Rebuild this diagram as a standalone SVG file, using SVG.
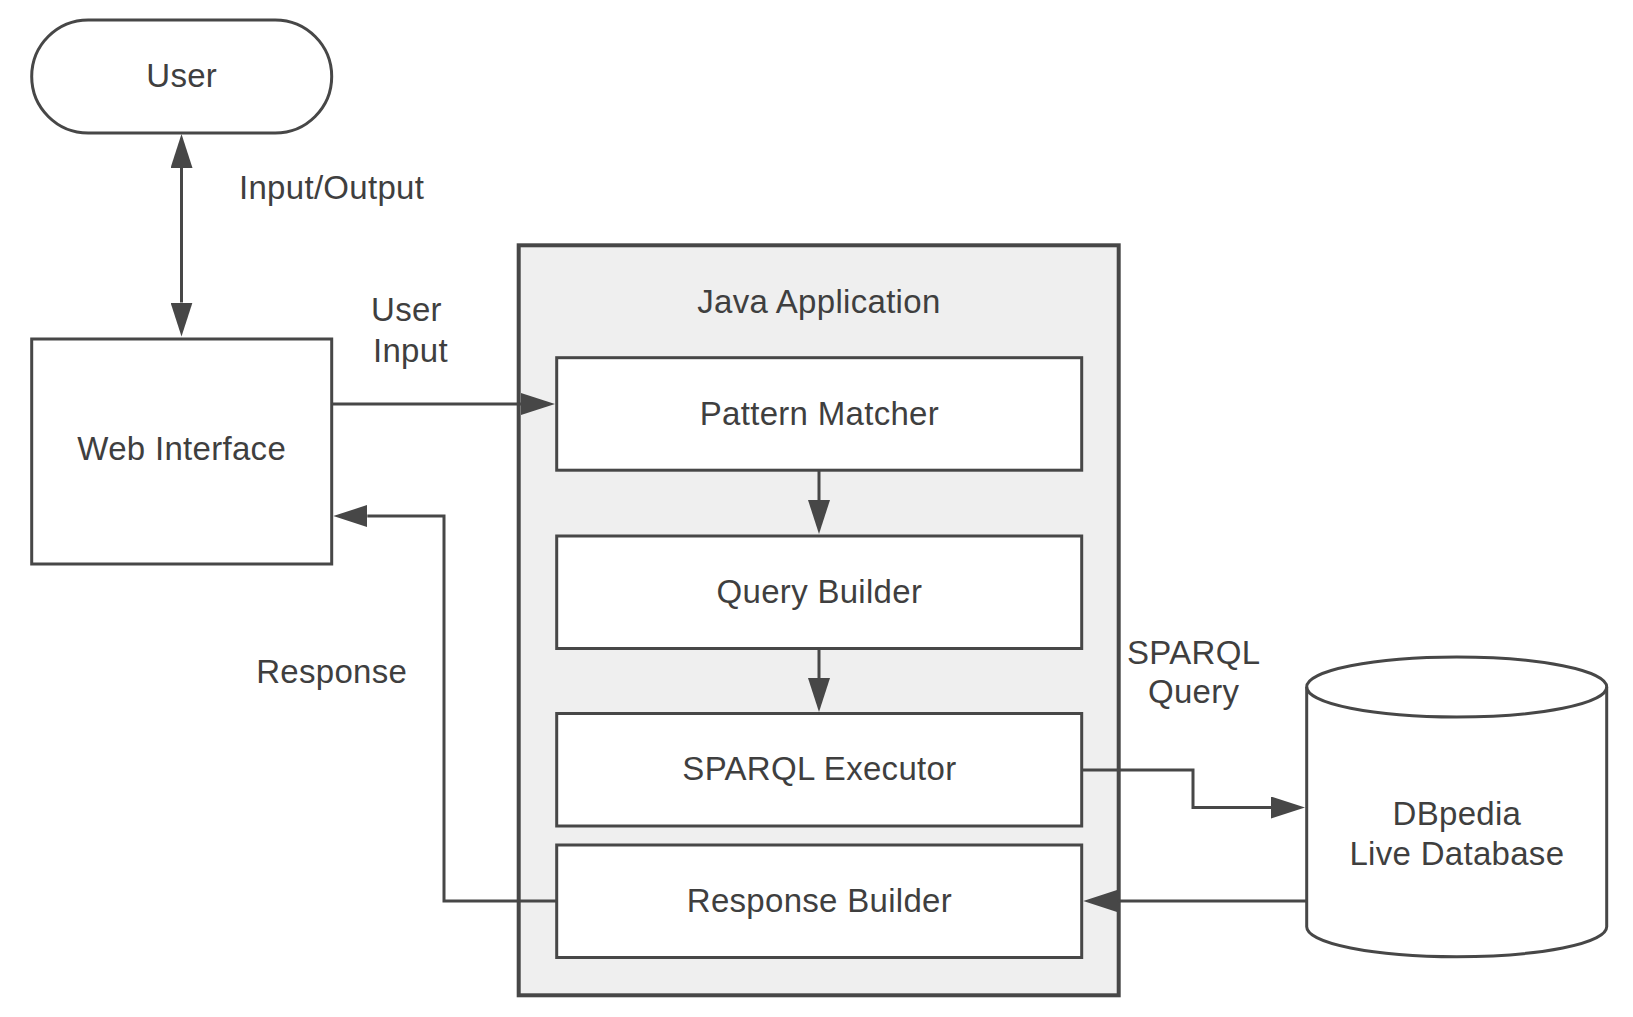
<svg xmlns="http://www.w3.org/2000/svg" width="1633" height="1017" viewBox="0 0 1633 1017">
<style>
  .shape { fill: #ffffff; stroke: #474747; stroke-width: 3; }
  .container { fill: #efefef; stroke: #474747; stroke-width: 4; }
  .lbl { font-family: "Liberation Sans", Arial, sans-serif; font-size: 33px; letter-spacing: 0.3px; fill: #3f3f3f; text-anchor: middle; }
  .lbl-start { font-family: "Liberation Sans", Arial, sans-serif; font-size: 33px; letter-spacing: 0.3px; fill: #3f3f3f; text-anchor: start; }
  .conn { fill: none; stroke: #474747; stroke-width: 3; marker-end: url(#arrow); }
</style>
<defs>
  <marker id="arrow" viewBox="0 0 34 22" refX="0" refY="11" markerWidth="34" markerHeight="22" markerUnits="userSpaceOnUse" orient="auto-start-reverse">
    <path d="M0,0 L34,11 L0,22 Z" fill="#474747"/>
  </marker>
</defs>
<rect width="1633" height="1017" fill="#ffffff"/>

<g id="user">
  <rect class="shape" x="31.7" y="20" width="300" height="113" rx="56.5" ry="56.5"/>
  <text class="lbl" x="181.7" y="87">User</text>
</g>

<g id="web-interface">
  <rect class="shape" x="31.7" y="339" width="300" height="225"/>
  <text class="lbl" x="181.7" y="460.3">Web Interface</text>
</g>

<g id="java-application">
  <rect class="container" x="518.7" y="245.3" width="600" height="750"/>
  <text class="lbl" x="818.9" y="312.5">Java Application</text>
</g>

<g id="pattern-matcher">
  <rect class="shape" x="556.7" y="357.7" width="525" height="112.5"/>
  <text class="lbl" x="819.4" y="424.5">Pattern Matcher</text>
</g>

<g id="query-builder">
  <rect class="shape" x="556.7" y="536" width="525" height="112.5"/>
  <text class="lbl" x="819.4" y="602.8">Query Builder</text>
</g>

<g id="sparql-executor">
  <rect class="shape" x="556.7" y="713.5" width="525" height="112.5"/>
  <text class="lbl" x="819.4" y="780.3">SPARQL Executor</text>
</g>

<g id="response-builder">
  <rect class="shape" x="556.7" y="845" width="525" height="112.5"/>
  <text class="lbl" x="819.4" y="911.8">Response Builder</text>
</g>

<g id="dbpedia">
  <path class="shape" d="M1306.7,687 A150,30 0 0 1 1606.7,687 L1606.7,926.7 A150,30 0 0 1 1306.7,926.7 Z"/>
  <path d="M1306.7,687 A150,30 0 0 0 1606.7,687" fill="none" stroke="#474747" stroke-width="3"/>
  <text class="lbl" x="1456.9" y="824.5">DBpedia</text>
  <text class="lbl" x="1456.9" y="864.5">Live Database</text>
</g>

<g id="connectors">
  <path class="conn" d="M181.5,168 L181.5,302.5" marker-start="url(#arrow)"/>
  <path class="conn" d="M331.5,404 L521,404"/>
  <path class="conn" d="M819,470.2 L819,500"/>
  <path class="conn" d="M819,648.5 L819,678"/>
  <path class="conn" d="M1081.7,770 L1193,770 L1193,807.5 L1271,807.5"/>
  <path class="conn" d="M1306.7,901 L1117.3,901"/>
  <path class="conn" d="M556.7,901 L444,901 L444,516 L367.3,516"/>
</g>

<g id="labels">
  <text class="lbl-start" x="239" y="199.3">Input/Output</text>
  <text class="lbl-start" x="371" y="320.5">User</text>
  <text class="lbl-start" x="373" y="361.5">Input</text>
  <text class="lbl" x="331.7" y="683">Response</text>
  <text class="lbl" x="1193.7" y="663.7">SPARQL</text>
  <text class="lbl" x="1193.7" y="702.5">Query</text>
</g>
</svg>
